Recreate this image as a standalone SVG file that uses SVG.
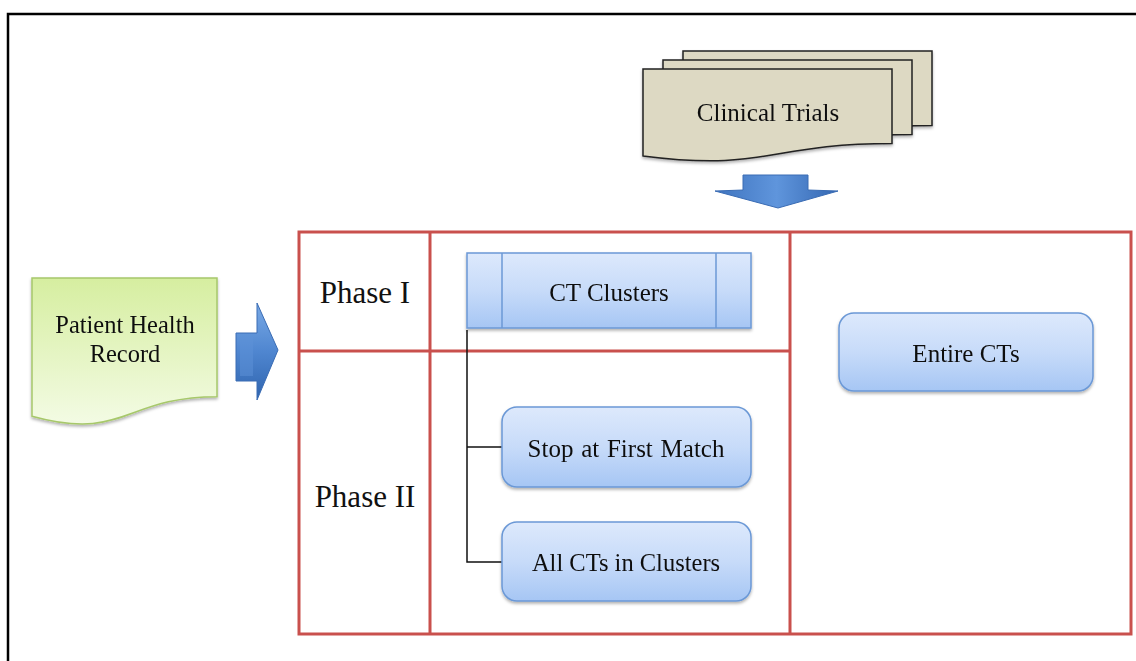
<svg xmlns="http://www.w3.org/2000/svg" width="1136" height="661" viewBox="0 0 1136 661">
<defs>
<linearGradient id="blueBox" x1="0" y1="0" x2="0" y2="1">
<stop offset="0" stop-color="#dde9fc"/>
<stop offset="0.5" stop-color="#c7dbf9"/>
<stop offset="1" stop-color="#a6c6f4"/>
</linearGradient>
<linearGradient id="green" x1="0" y1="0" x2="0" y2="1">
<stop offset="0" stop-color="#d6eea0"/>
<stop offset="1" stop-color="#f3fbe4"/>
</linearGradient>
<linearGradient id="arrowH" x1="0" y1="0" x2="0" y2="1">
<stop offset="0" stop-color="#7aaae6"/>
<stop offset="0.5" stop-color="#4f86d0"/>
<stop offset="1" stop-color="#2f64ae"/>
</linearGradient>
<linearGradient id="arrowV" x1="0" y1="0" x2="1" y2="0">
<stop offset="0" stop-color="#3f74bf"/>
<stop offset="0.5" stop-color="#5f95dc"/>
<stop offset="1" stop-color="#3467b2"/>
</linearGradient>
<filter id="sh" x="-10%" y="-10%" width="120%" height="130%">
<feDropShadow dx="0" dy="2" stdDeviation="1.5" flood-color="#000" flood-opacity="0.3"/>
</filter>
</defs>
<style>
.t{font-family:"Liberation Serif","Times New Roman",serif;fill:#111;text-anchor:middle}
.box{fill:url(#blueBox);stroke:#6b98d6;stroke-width:1.5}
.red{fill:none;stroke:#c9504d;stroke-width:3}
.doc{fill:#ddd9c3;stroke:#222;stroke-width:1.5}
.conn{fill:none;stroke:#111;stroke-width:1.5}
</style>
<rect width="1136" height="661" fill="#fff"/>
<path d="M8,665 V14 H1140" fill="none" stroke="#000" stroke-width="2.5"/>

<g id="table">
<rect class="red" x="299" y="232" width="832" height="402"/>
<line class="red" x1="430" y1="232" x2="430" y2="634"/>
<line class="red" x1="790" y1="232" x2="790" y2="634"/>
<line class="red" x1="299" y1="351" x2="790" y2="351"/>
</g>

<g id="phase1"><text class="t" x="365" y="303" font-size="31">Phase I</text></g>
<g id="phase2"><text class="t" x="365" y="507" font-size="31">Phase II</text></g>

<g id="clinical-trials" filter="url(#sh)">
<path class="doc" d="M683,51 H932 V125.6 C807.5,125.6 807.5,154 683,137.9 Z"/>
<path class="doc" d="M663,60 H912 V134.6 C787.5,134.6 787.5,163 663,146.9 Z"/>
<path class="doc" d="M643,69 H892 V143.6 C767.5,143.6 767.5,172 643,155.9 Z"/>
<text class="t" x="768" y="121" font-size="25">Clinical Trials</text>
</g>

<g id="patient-health-record" filter="url(#sh)">
<path d="M32,278 H217 V396.7 C124.5,396.7 124.5,441.8 32,416.2 Z" fill="url(#green)" stroke="#a7c86b" stroke-width="1.5"/>
<text class="t" x="125" y="333" font-size="24.5">Patient Health</text>
<text class="t" x="125" y="362" font-size="24.5">Record</text>
</g>

<g id="arrow-right">
<path d="M236,333 H257 V303 L278,350 L257,400 V381 H236 Z" fill="url(#arrowH)" stroke="#3a6cb4" stroke-width="1"/>
<path d="M240,337 H253 V376 H240 Z" fill="#5d92d8" opacity="0.5"/>
</g>

<g id="arrow-down">
<path d="M743,175 H808 V190 L838,191 L778,208 L715,191 L743,190 Z" fill="url(#arrowV)" stroke="#3a6cb4" stroke-width="1"/>
</g>

<g id="connectors">
<path class="conn" d="M467,330 V562 H502"/>
<path class="conn" d="M467,447 H502"/>
</g>

<g id="ct-clusters" filter="url(#sh)">
<rect class="box" x="467" y="253" width="284" height="75"/>
<line x1="502" y1="253" x2="502" y2="328" stroke="#6b98d6" stroke-width="1.5"/>
<line x1="716" y1="253" x2="716" y2="328" stroke="#6b98d6" stroke-width="1.5"/>
<text class="t" x="609" y="301" font-size="25">CT Clusters</text>
</g>

<g id="stop-first-match" filter="url(#sh)">
<rect class="box" x="502" y="407" width="249" height="80" rx="15"/>
<text class="t" x="626" y="457" font-size="25" word-spacing="1.5">Stop at First Match</text>
</g>

<g id="all-cts-clusters" filter="url(#sh)">
<rect class="box" x="502" y="522" width="249" height="79" rx="15"/>
<text class="t" x="626" y="571" font-size="24.5">All CTs in Clusters</text>
</g>

<g id="entire-cts" filter="url(#sh)">
<rect class="box" x="839" y="313" width="254" height="78" rx="15"/>
<text class="t" x="966" y="362" font-size="25">Entire CTs</text>
</g>
</svg>
